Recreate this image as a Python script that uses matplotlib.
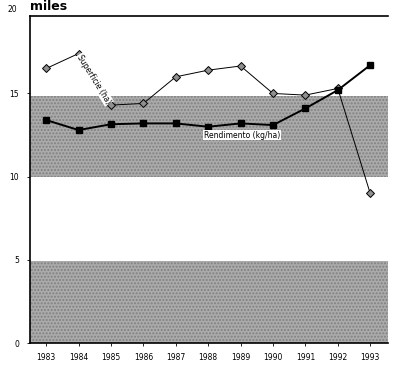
import numpy as np
from matplotlib import pyplot as plt

years = [1983, 1984, 1985, 1986, 1987, 1988, 1989, 1990, 1991, 1992, 1993]
superficie = [16.5, 17.4, 14.3, 14.4, 16.0, 16.4, 16.65, 15.0, 14.9, 15.3, 9.0]
rendimento = [13.4, 12.8, 13.15, 13.2, 13.2, 13.0, 13.2, 13.1, 14.1, 15.2, 16.7]
yticks = [0, 5, 10, 15]

fig = plt.figure(figsize=(4, 3.65), dpi=100)
ax = fig.add_axes([0.075, 0.06, 0.895, 0.896])

# grey bands
for lo, hi in [(0, 4.95), (10, 14.85)]:
	ax.axhspan(lo, hi, facecolor='#ababab', edgecolor='#808080', hatch='.....', linewidth=0, zorder=0)

ax.plot(years, superficie, color='black', lw=0.7, marker='D', ms=4.5,
	mfc='#909090', mec='black', mew=0.7, zorder=3)
ax.plot(years, rendimento, color='black', lw=1.4, marker='s', ms=5,
	mfc='black', mec='black', zorder=4)

ax.text(1984.48, 15.85, 'Superficie (ha)', rotation=-58, fontsize=5.5,
	ha='center', va='center', zorder=5,
	bbox=dict(boxstyle='square,pad=0.1', fc='white', ec='none'))
ax.text(1989.05, 12.5, 'Rendimento (kg/ha)', fontsize=5.5,
	ha='center', va='center', zorder=5,
	bbox=dict(boxstyle='square,pad=0.1', fc='white', ec='none'))

ax.set_xlim(1982.5, 1993.55)
ax.set_ylim(0, 19.65)
ax.set_xticks(years)
ax.set_xticklabels([str(y) for y in years], fontsize=5.5)
ax.set_yticks(yticks)
ax.set_yticklabels([str(t) for t in yticks], fontsize=5.5)
ax.tick_params(axis='both', length=2, width=0.6, pad=6)
ax.tick_params(axis='x', pad=5)

ax.spines['right'].set_visible(False)
for s in ['left', 'bottom', 'top']:
	ax.spines[s].set_linewidth(1.2)

ax.text(-0.035, 1.02, '20', transform=ax.transAxes, fontsize=5.5, ha='right', va='center')
ax.text(0.0, 1.03, 'miles', transform=ax.transAxes, fontsize=9, fontweight='bold', ha='left', va='center')

fig.savefig('out.png', dpi=100)
